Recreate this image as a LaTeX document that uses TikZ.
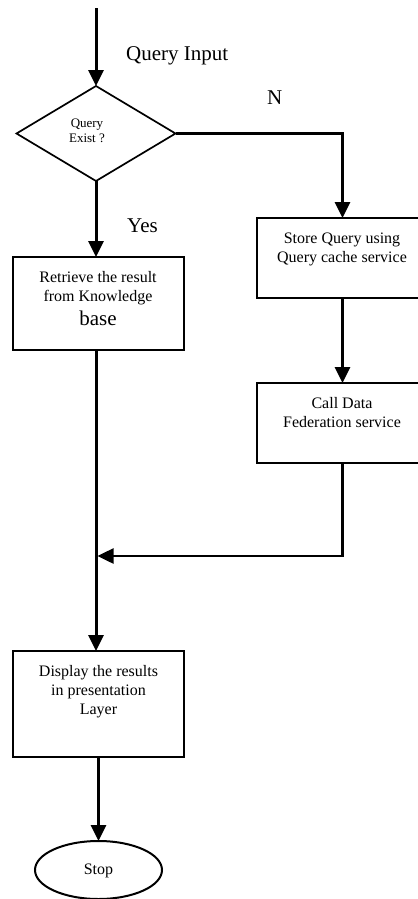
\documentclass[tikz,border=0pt]{standalone}
\usepackage{fontspec}
\setmainfont{Liberation Serif}
\usetikzlibrary{arrows.meta,shapes.geometric}
\begin{document}
\begin{tikzpicture}[x=1bp,y=-1bp,
  box/.style={draw, line width=2bp, minimum width=171bp, inner sep=0pt, outer sep=0pt},
  dec/.style={draw, diamond, line width=1.7bp, inner sep=0pt, outer sep=0pt, minimum width=159bp, minimum height=95bp},
  term/.style={draw, ellipse, line width=2bp, inner sep=0pt, outer sep=0pt, minimum width=127bp, minimum height=58bp},
  arr/.style={line width=3bp, -{Triangle[length=16bp,width=15bp]}},
  boxtext/.style={font=\fontsize{16bp}{19bp}\selectfont, align=center, inner sep=0pt, anchor=north},
  lab/.style={font=\fontsize{21bp}{24bp}\selectfont, inner sep=0pt},
  small/.style={font=\fontsize{13bp}{15bp}\selectfont, align=center, inner sep=0pt, anchor=north}
]
\useasboundingbox (0,0) rectangle (417,899);

\coordinate (start) at (96,8);
\node[dec] (dia) at (96,133.5) {};
\node[small] (diat) at (87,119) {Query\\Exist ?};

\node[box, minimum height=93bp] (ret) at (98.5,303.5) {};
\node[boxtext] (rett) at (98,271) {Retrieve the result\\from Knowledge};
\node[lab, anchor=base] (retb) at (98,325) {base};

\node[box, minimum height=80bp] (store) at (342.5,258) {};
\node[boxtext] (storet) at (342,233) {Store Query using\\Query cache service};

\node[box, minimum height=80bp] (call) at (342.5,423) {};
\node[boxtext] (callt) at (342,397) {Call Data\\Federation service};

\node[box, minimum height=106bp] (disp) at (98.5,704) {};
\node[boxtext] (dispt) at (98.5,665) {Display the results\\in presentation\\Layer};

\node[term] (stop) at (98.5,870) {};
\node[font=\fontsize{16bp}{19bp}\selectfont, anchor=base, inner sep=0pt] (stopt) at (98.5,874) {Stop};

\coordinate (join) at (97.5,556);

\node[lab, anchor=base west] (lq) at (126,60) {Query Input};
\node[lab, anchor=base west] (ln) at (267,104) {N};
\node[lab, anchor=base west] (ly) at (127,232) {Yes};

\draw[arr] (start) -- (dia.north);
\draw[arr] (dia.south) -- (dia.south |- ret.north);
\draw[arr] (dia.east) -| (store.north);
\draw[arr] (store.south) -- (call.north);
\draw[arr, line width=2.5bp] (call.south) |- (join);
\draw[arr] (ret.south -| dia.south) -- (disp.north -| dia.south);
\draw[arr] (disp.south) -- (stop.north);
\end{tikzpicture}
\end{document}
